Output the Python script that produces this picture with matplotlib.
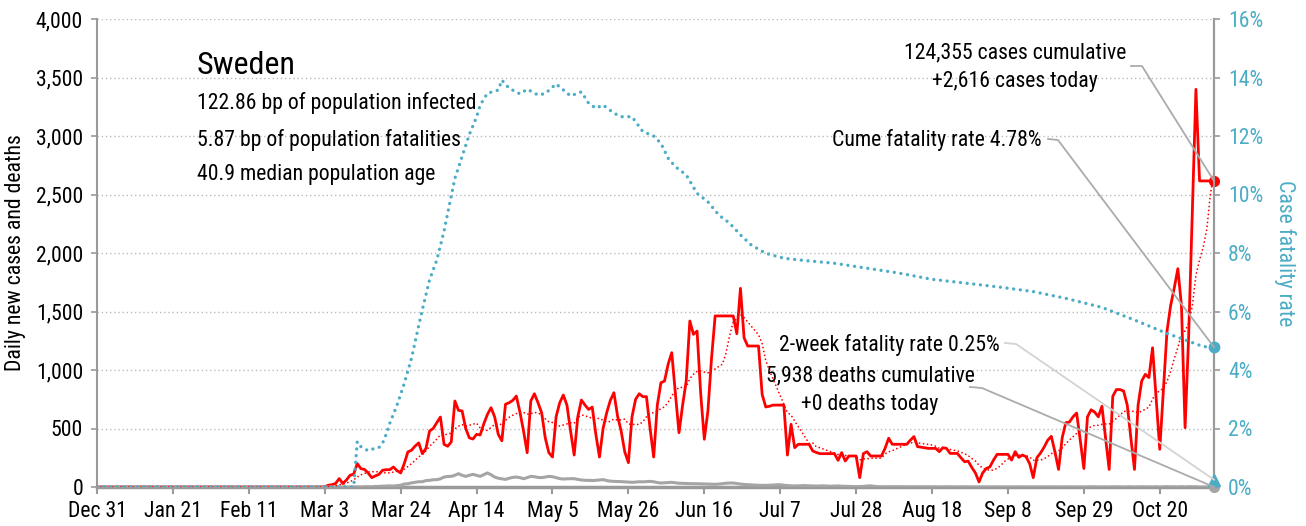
import numpy as np
import pandas as pd
import matplotlib
matplotlib.use("Agg")
import matplotlib.pyplot as plt
from matplotlib.lines import Line2D
from matplotlib.transforms import IdentityTransform

plt.rcParams['font.family'] = ['Roboto Condensed', 'Liberation Sans Narrow', 'Roboto', 'DejaVu Sans']
plt.rcParams['font.stretch'] = 'condensed'

# daily new cases, Mar 1 (day 61 after Dec 31) .. Nov 4
cases_from_mar1 = [
    0, 0, 2, 15, 20, 30, 72,
    30, 60, 100, 110, 200, 157, 150,
    120, 80, 95, 108, 143, 148, 148,
    171, 140, 120, 200, 300, 314, 350,
    377, 285, 330, 479, 500, 550, 598,
    365, 348, 385, 735, 655, 650, 500,
    420, 410, 450, 445, 540, 620, 678,
    600, 450, 395, 707, 720, 740, 777,
    640, 478, 293, 735, 797, 720, 635,
    420, 293, 256, 600, 720, 786, 700,
    480, 273, 600, 743, 700, 663, 683,
    450, 256, 500, 635, 740, 806, 607,
    478, 300, 208, 600, 750, 797, 772,
    772, 500, 256, 700, 891, 906, 1050,
    1148, 800, 464, 700, 906, 1419, 1305,
    1333, 800, 408, 650, 1100, 1462, 1462,
    1462, 1462, 1462, 1462, 1310, 1698, 1276,
    1205, 1205, 1205, 1205, 792, 684, 690,
    700, 700, 700, 701, 273, 536, 336,
    365, 365, 365, 365, 308, 295, 285,
    285, 285, 285, 285, 228, 294, 222,
    265, 265, 265, 80, 285, 302, 265,
    265, 265, 265, 330, 417, 365, 365,
    365, 365, 365, 400, 431, 345, 340,
    335, 330, 330, 330, 302, 336, 330,
    287, 287, 287, 250, 216, 221, 167,
    120, 43, 120, 158, 172, 230, 279,
    279, 279, 279, 230, 302, 253, 273,
    259, 200, 80, 250, 290, 340, 400,
    433, 300, 150, 420, 550, 555, 600,
    632, 400, 158, 600, 660, 640, 600,
    690, 420, 150, 775, 833, 833, 820,
    700, 420, 150, 700, 906, 963, 935,
    1190, 750, 322, 830, 1333, 1550, 1700,
    1866, 1550, 507, 1300, 2350, 3399, 2616,
    2616, 2616, 2616, 2616,
]
cases = [0] * 61 + cases_from_mar1

# daily deaths, Mar 10 (day 70) .. Nov 4
deaths_from_mar10 = [
    0, 1, 1, 1, 2, 3, 2,
    5, 5, 7, 8, 10, 8, 12,
    15, 25, 28, 35, 40, 45, 45,
    55, 57, 62, 63, 70, 85, 90,
    91, 100, 114, 100, 91, 100, 108,
    100, 91, 105, 120, 105, 85, 75,
    70, 65, 75, 82, 85, 80, 71,
    80, 91, 88, 82, 80, 85, 91,
    88, 80, 72, 68, 70, 71, 71,
    65, 60, 57, 57, 55, 57, 60,
    63, 55, 50, 48, 47, 46, 44,
    42, 40, 42, 45, 44, 46, 48,
    45, 38, 34, 36, 38, 40, 36,
    32, 31, 30, 29, 28, 28, 27,
    26, 25, 24, 23, 25, 28, 32,
    34, 34, 30, 25, 22, 20, 18,
    16, 15, 14, 14, 15, 17, 19,
    20, 15, 12, 10, 9, 10, 11,
    12, 10, 9, 8, 9, 10, 8,
    7, 8, 9, 7, 6, 5, 4,
    3, 4, 5, 8, 10, 6, 3,
    2, 2, 3, 2, 2, 3, 2,
    2, 1, 2, 2, 1, 2, 2,
    1, 2, 1, 1, 2, 1, 1,
    1, 2, 1, 1, 1, 0, 1,
    1, 1, 0, 1, 1, 1, 0,
    1, 1, 0, 1, 1, 0, 1,
    1, 0, 1, 1, 0, 1, 1,
    0, 1, 1, 1, 0, 1, 1,
    0, 1, 2, 1, 0, 1, 1,
    0, 2, 1, 1, 0, 1, 2,
    0, 1, 2, 1, 1, 0, 2,
    0, 2, 3, 1, 2, 0, 3,
    0, 3, 2, 2, 0, 0, 0,
    0, 0,
]
deaths = [0] * 70 + deaths_from_mar10

# case fatality rate (%), read at these days
cfr_days = [0, 71, 72, 73, 75, 76, 78, 79, 80, 81, 83, 85, 87, 89, 90, 92, 94, 96,
            98, 99, 101, 103, 105, 106, 108, 111, 112, 114, 117, 119, 122, 124, 127,
            131, 134, 136, 138, 140, 143, 145, 148, 151, 154, 156, 158, 160, 163,
            166, 169, 172, 175, 178, 181, 185, 190, 196, 204, 213, 222, 231, 241,
            250, 259, 268, 278, 287, 296, 301, 306, 309]
cfr_pct = [0, 0, 1.55, 1.38, 1.24, 1.29, 1.35, 1.5, 1.8, 2.18, 2.80, 3.54, 4.40, 5.52,
           6.06, 7.08, 7.76, 8.75, 9.95, 10.55, 11.3, 12.05, 12.65, 13.06, 13.46, 13.57,
           13.91, 13.63, 13.44, 13.6, 13.4, 13.45, 13.78, 13.37, 13.51, 13.12, 12.95,
           13.06, 12.78, 12.66, 12.66, 12.15, 12.0, 11.75, 11.24, 10.95, 10.67, 10.04,
           9.75, 9.30, 9.02, 8.62, 8.27, 7.99, 7.82, 7.74, 7.65, 7.48, 7.31, 7.10, 6.96,
           6.83, 6.68, 6.45, 6.14, 5.71, 5.25, 5.03, 4.80, 4.78]
two_week_cfr = 0.25

tick_days = [0, 21, 42, 63, 84, 105, 126, 147, 168, 189, 210, 231, 252, 273, 294]
tick_labels = ["Dec 31", "Jan 21", "Feb 11", "Mar 3", "Mar 24", "Apr 14", "May 5",
               "May 26", "Jun 16", "Jul 7", "Jul 28", "Aug 18", "Sep 8", "Sep 29", "Oct 20"]

country = "Sweden"
bp_infected = 122.86
bp_fatal = 5.87
median_age = 40.9
cum_cases = 124355
cum_deaths = 5938
today_deaths = 0

RED = '#FF0000'
BLUE = '#4BACC6'
GRAY = '#A5A5A5'
AXC = '#9A9A9A'
FS = 15.7

days = np.arange(len(cases))
avg7 = pd.Series(cases).rolling(7, min_periods=1).mean()

fig = plt.figure(figsize=(13.06, 5.26), dpi=100)
ax = fig.add_axes([97 / 1306, 39 / 526, 1117 / 1306, 468 / 526])

ax.plot(days, cases, color=RED, lw=2.0, zorder=3)
ax.plot(days, deaths, color=GRAY, lw=2.2, zorder=4)
ax.plot(days, avg7, color=RED, lw=1.3, ls=(0, (0.01, 2.2)), dash_capstyle='round', zorder=5)
ax.plot(days[-1], cases[-1], 'o', color=RED, ms=7, clip_on=False, zorder=6)
ax.plot(days[-1], deaths[-1], 'o', color=GRAY, ms=7, clip_on=False, zorder=6)

ax.set_xlim(0, days[-1])
ax.set_ylim(0, 4000)
ax.set_yticks(range(0, 4001, 500))
ax.set_yticklabels([f"{v:,}" for v in range(0, 4001, 500)])
ax.set_xticks(tick_days)
ax.set_xticklabels(tick_labels)
ax.grid(axis='y', color='#BBBBBB', ls=(0, (1, 2)), lw=1)
ax.set_axisbelow(True)
ax.tick_params(axis='x', direction='out', length=5, width=1.5, color=AXC, labelsize=FS, pad=5)
ax.tick_params(axis='y', direction='out', length=4, width=1.2, color=AXC, labelsize=FS, pad=6)
ax.spines['top'].set_visible(False)
for s in ['left', 'right']:
    ax.spines[s].set_color(AXC)
    ax.spines[s].set_linewidth(1.5)
ax.spines['bottom'].set_color(AXC)
ax.spines['bottom'].set_linewidth(2.5)
ax.set_ylabel("Daily new cases and deaths", fontsize=FS)
ax.yaxis.set_label_coords(-0.064, 0.5)

ax2 = ax.twinx()
ax2.plot(cfr_days, cfr_pct, color=BLUE, lw=2.4, ls=(0, (0.01, 2.0)), dash_capstyle='round')
ax2.plot(cfr_days[-1], cfr_pct[-1], 'o', color=BLUE, ms=7.5, clip_on=False, zorder=6)
ax2.plot(days[-1], two_week_cfr, '^', color=BLUE, ms=8, clip_on=False, zorder=6)
ax2.set_ylim(0, 16)
ax2.set_yticks(range(0, 17, 2))
ax2.set_yticklabels([f"{v}%" for v in range(0, 17, 2)])
ax2.tick_params(axis='y', direction='out', length=4, width=1.2, color=AXC,
                labelsize=FS, labelcolor=BLUE, pad=6)
for s in ['top', 'left', 'bottom']:
    ax2.spines[s].set_visible(False)
ax2.spines['right'].set_color(AXC)
ax2.spines['right'].set_linewidth(1.5)
ax2.set_ylabel("Case fatality rate", fontsize=FS, color=BLUE, rotation=-90)
ax2.yaxis.set_label_coords(1.0734, 0.5)

# country block
ax.text(0.0895, 0.9017, country, transform=ax.transAxes, fontsize=23, va='center', ha='left')
info = [f"{bp_infected:.2f} bp of population infected",
        f"{bp_fatal:.2f} bp of population fatalities",
        f"{median_age} median population age"]
for yy, s in zip([0.8205, 0.7415, 0.6667], info):
    ax.text(0.0895, yy, s, transform=ax.transAxes, fontsize=FS, va='center', ha='left')


def leader(p0, p1, target, color):
    a = ax.transAxes.transform([p0, p1])
    pts = np.vstack([a, target])
    fig.add_artist(Line2D(pts[:, 0], pts[:, 1], transform=IdentityTransform(),
                          color=color, lw=1.3, zorder=10))


ax.text(0.8219, 0.8974, f"{cum_cases:,} cases cumulative\n+{cases[-1]:,} cases today",
        transform=ax.transAxes, fontsize=FS, ha='center', va='center', linespacing=1.45)
leader((0.9257, 0.8996), (0.9355, 0.8996), ax.transData.transform((days[-1], cases[-1])), '#ABABAB')

ax.text(0.846, 0.7415, f"Cume fatality rate {cfr_pct[-1]:.2f}%", transform=ax.transAxes,
        fontsize=FS, ha='right', va='center')
leader((0.8514, 0.7436), (0.8603, 0.7415), ax2.transData.transform((cfr_days[-1], cfr_pct[-1])), '#ABABAB')

ax.text(0.8084, 0.3034, f"2-week fatality rate {two_week_cfr:.2f}%", transform=ax.transAxes,
        fontsize=FS, ha='right', va='center')
leader((0.8129, 0.3077), (0.8227, 0.3056), ax2.transData.transform((days[-1], two_week_cfr)), '#D3D3D3')

ax.text(0.692, 0.2073, f"{cum_deaths:,} deaths cumulative\n+{today_deaths} deaths today",
        transform=ax.transAxes, fontsize=FS, ha='center', va='center', linespacing=1.45)
leader((0.7816, 0.2137), (0.7923, 0.2115), ax.transData.transform((days[-1], deaths[-1])), '#ABABAB')

fig.savefig("out.png", dpi=100)
